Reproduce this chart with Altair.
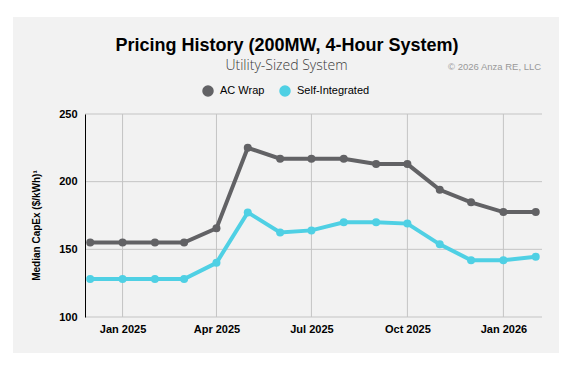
import altair as alt
import pandas as pd

# ---- data ----
MONTHS = ["2024-12-01", "2025-01-01", "2025-02-01", "2025-03-01", "2025-04-01",
          "2025-05-01", "2025-06-01", "2025-07-01", "2025-08-01", "2025-09-01",
          "2025-10-01", "2025-11-01", "2025-12-01", "2026-01-01", "2026-02-01"]
AC_WRAP = [155, 155, 155, 155, 165.5, 225, 217, 217, 217, 213, 213, 194, 184.7, 177.5, 177.5]
SELF_INT = [128, 128, 128, 128, 140, 177.3, 162.5, 164, 170, 170, 169, 153.7, 142, 142, 144.6]
SERIES = ["AC Wrap", "Self-Integrated"]
COLORS = ["#626265", "#4fd0e4"]
Y_TICKS = [100, 150, 200, 250]
X_TICKS = ["2025-01-01", "2025-04-01", "2025-07-01", "2025-10-01", "2026-01-01"]
TITLE = ["Pricing History (200MW, 4-Hour System)"]
SUBTITLE = ["Utility-Sized System"]
CREDIT = ["© 2026 Anza RE, LLC"]
Y_TITLE = "Median CapEx ($/kWh)¹"

W, H = 457, 203
FONT = "Arial, Liberation Sans, sans-serif"

rows = []
for name, vals in zip(SERIES, [AC_WRAP, SELF_INT]):
    for m, v in zip(MONTHS, vals):
        rows.append({"date": m + "T00:00:00", "series": name, "value": v})
df = pd.DataFrame(rows)


def dt(s):
    y, m, d = [int(p) for p in s.split("-")]
    return alt.DateTime(year=y, month=m, date=d)


xscale = alt.Scale(domain=[alt.DateTime(year=2024, month=11, date=26),
                           alt.DateTime(year=2026, month=2, date=7)])
yscale = alt.Scale(domain=[100, 250], nice=False, zero=False)

xaxis = alt.Axis(values=[dt(s) for s in X_TICKS], format="%b %Y", grid=False,
                 ticks=False, domain=False, labelFont=FONT, labelFontSize=11,
                 labelFontWeight="bold", labelColor="#000", labelPadding=6,
                 labelFlush=False, title=None, zindex=1)
yaxis = alt.Axis(values=Y_TICKS, grid=False, ticks=False, domain=True,
                 domainColor="#000", domainWidth=1, labelFont=FONT,
                 labelFontSize=11, labelFontWeight="bold", labelColor="#000",
                 labelPadding=8, title=Y_TITLE, titleFont=FONT, titleFontSize=10,
                 titleFontWeight="bold", titleColor="#000", titleX=-43.5,
                 titleY=111, zindex=1)

X = alt.X("date:T", scale=xscale, axis=xaxis)
Y = alt.Y("value:Q", scale=yscale, axis=yaxis)
cscale = alt.Scale(domain=SERIES, range=COLORS)
legend = alt.Legend(
    orient="none", legendX=117, legendY=-29, direction="horizontal",
    title=None, labelFont=FONT, labelFontSize=11, labelColor="#000",
    symbolSize=100, symbolType="circle", symbolOpacity=1, labelOffset=6,
    columnPadding=12, padding=0, zindex=2)

bg = alt.Chart(pd.DataFrame({"k": [0]})).mark_rect(color="#f2f2f2").encode(
    x=alt.value(-72), x2=alt.value(474), y=alt.value(-97), y2=alt.value(239))

hgrid = alt.Chart(pd.DataFrame({"value": Y_TICKS})).mark_rule(
    color="#c4c4c4", strokeWidth=1).encode(y=Y, x=alt.value(0), x2=alt.value(W))

vgrid = alt.Chart(pd.DataFrame({"date": [s + "T00:00:00" for s in X_TICKS]})).mark_rule(
    color="#c4c4c4", strokeWidth=1).encode(x=X, y=alt.value(0), y2=alt.value(H))

line = alt.Chart(df).mark_line(strokeWidth=4).encode(
    x=X, y=Y, color=alt.Color("series:N", scale=cscale, legend=legend))

pts = alt.Chart(df).mark_circle(size=64, opacity=1).encode(
    x=X, y=Y, color=alt.Color("series:N", scale=cscale, legend=legend))

title = alt.Chart(pd.DataFrame({"t": TITLE})).mark_text(
    font=FONT, fontSize=18, fontWeight="bold", color="#000", align="center",
    baseline="alphabetic").encode(text="t:N", x=alt.value(202), y=alt.value(-63))

subtitle = alt.Chart(pd.DataFrame({"t": SUBTITLE})).mark_text(
    font="Open Sans", fontSize=14, fontWeight=300, color="#3a3a3a", align="center",
    baseline="alphabetic").encode(text="t:N", x=alt.value(201.5), y=alt.value(-44))

credit = alt.Chart(pd.DataFrame({"t": CREDIT})).mark_text(
    font=FONT, fontSize=9.5, color="#999", align="left",
    baseline="alphabetic").encode(text="t:N", x=alt.value(363), y=alt.value(-44))

chart = alt.layer(bg, hgrid, vgrid, line, pts, title, subtitle, credit).properties(
    width=W, height=H,
    autosize=alt.AutoSizeParams(type="none"),
    padding={"left": 77, "top": 106, "right": 20, "bottom": 40},
    background="white",
).configure_view(stroke=None)

chart.save("out.html", embed_options={"renderer": "svg", "actions": False})
